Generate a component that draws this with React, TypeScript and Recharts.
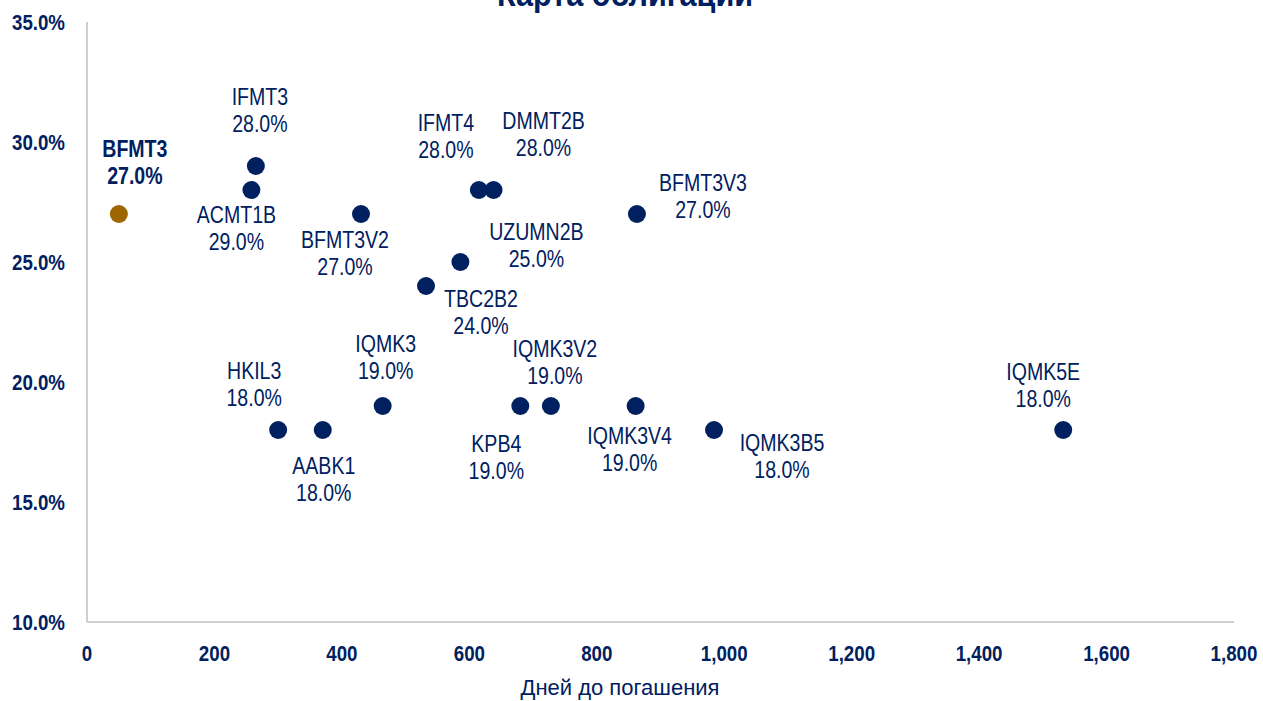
import { Scatter, ScatterChart, XAxis, YAxis } from "recharts";

const TITLE = "Карта облигаций";
const X_TITLE = "Дней до погашения";

const NAMES = [
  "BFMT3", "IFMT3", "ACMT1B", "HKIL3", "AABK1", "BFMT3V2", "IQMK3", "TBC2B2", "UZUMN2B",
  "IFMT4", "DMMT2B", "KPB4", "IQMK3V2", "IQMK3V4", "BFMT3V3", "IQMK3B5", "IQMK5E",
];
const DAYS = [50, 265, 258, 300, 370, 430, 464, 532, 586, 615, 638, 680, 728, 861, 863, 984, 1532];
const YIELDS = [27, 29, 28, 18, 18, 27, 19, 24, 25, 28, 28, 19, 19, 19, 27, 18, 18];
// text shown in the label (two labels in the source are swapped)
const LABEL_YIELDS = [27, 28, 29, 18, 18, 27, 19, 24, 25, 28, 28, 19, 19, 19, 27, 18, 18];

const X_TICKS = [0, 200, 400, 600, 800, 1000, 1200, 1400, 1600, 1800];
const Y_TICKS = [10, 15, 20, 25, 30, 35];

const HIGHLIGHT = "BFMT3";

const NAVY = "#002060";
const GOLD = "#9E6600";
const AXIS = "#BFBFBF";
const FONT = "'Liberation Sans', Arial, sans-serif";

// label centre offset from the dot: [dx, dy of first line]
const LABEL_POS: Record<string, [number, number]> = {
  BFMT3: [16, -65],
  IFMT3: [4, -69],
  ACMT1B: [-15, 25],
  HKIL3: [-24, -59],
  AABK1: [1, 36],
  BFMT3V2: [-16, 26],
  IQMK3: [3, -62],
  TBC2B2: [55, 13],
  UZUMN2B: [76, -30],
  IFMT4: [-33, -67],
  DMMT2B: [50, -69],
  KPB4: [-24, 38],
  IQMK3V2: [4, -57],
  IQMK3V4: [-6, 30],
  BFMT3V3: [66, -31],
  IQMK3B5: [68, 13],
  IQMK5E: [-20, -58],
};

const data = NAMES.map((name, i) => ({
  name,
  days: DAYS[i],
  yld: YIELDS[i],
  labelYld: LABEL_YIELDS[i],
}));

// no Arial Narrow available, so squeeze regular text horizontally
function NarrowText({ x, y, sx = 0.85, anchor = "middle", dy, size, bold, children }: any) {
  return (
    <text
      transform={`translate(${x} ${y}) scale(${sx} 1)`}
      dy={dy}
      textAnchor={anchor}
      fill={NAVY}
      fontFamily={FONT}
      fontSize={size}
      fontWeight={bold ? 700 : 400}
    >
      {children}
    </text>
  );
}

function BondDot(props: any) {
  const { cx, cy, payload } = props;
  const hi = payload.name === HIGHLIGHT;
  const [dx, dy] = LABEL_POS[payload.name] ?? [0, -50];
  return (
    <g>
      <circle cx={cx} cy={cy} r={9} fill={hi ? GOLD : NAVY} />
      <NarrowText x={cx + dx} y={cy + dy} dy="0.36em" size={23} bold={hi}>
        {payload.name}
      </NarrowText>
      <NarrowText x={cx + dx} y={cy + dy + 27} dy="0.36em" size={23} bold={hi}>
        {payload.labelYld.toFixed(1)}%
      </NarrowText>
    </g>
  );
}

function YTick({ x, y, payload }: any) {
  return (
    <NarrowText x={x} y={y} dy="0.36em" anchor="end" size={22} bold>
      {payload.value.toFixed(1)}%
    </NarrowText>
  );
}

function XTick({ x, y, payload }: any) {
  return (
    <NarrowText x={x} y={y} dy="0.71em" size={22} bold>
      {payload.value.toLocaleString("en-US")}
    </NarrowText>
  );
}

export default function App() {
  return (
    <div style={{ position: "absolute", left: 0, top: 0, width: 1263, height: 701, background: "#fff" }}>
      <ScatterChart width={1263} height={701} margin={{ top: 22, right: 29, bottom: 0, left: 0 }}>
        <XAxis
          type="number"
          dataKey="days"
          domain={[0, 1800]}
          ticks={X_TICKS}
          interval={0}
          height={79}
          tickSize={0}
          tickMargin={23}
          tick={<XTick />}
          axisLine={{ stroke: AXIS, strokeWidth: 1.5 }}
        />
        <YAxis
          type="number"
          dataKey="yld"
          domain={[10, 35]}
          ticks={Y_TICKS}
          interval={0}
          width={87}
          tickSize={0}
          tickMargin={22}
          tick={<YTick />}
          axisLine={{ stroke: AXIS, strokeWidth: 1.5 }}
        />
        <Scatter data={data} shape={<BondDot />} isAnimationActive={false} />
      </ScatterChart>
      <svg
        width={1263}
        height={701}
        style={{ position: "absolute", left: 0, top: 0, pointerEvents: "none" }}
      >
        {/* the title sits mostly above the top edge, as in the source */}
        <NarrowText x={625} y={6} size={36} bold>
          {TITLE}
        </NarrowText>
        <text x={620} y={695} textAnchor="middle" fill={NAVY} fontFamily={FONT} fontSize={22}>
          {X_TITLE}
        </text>
      </svg>
    </div>
  );
}
